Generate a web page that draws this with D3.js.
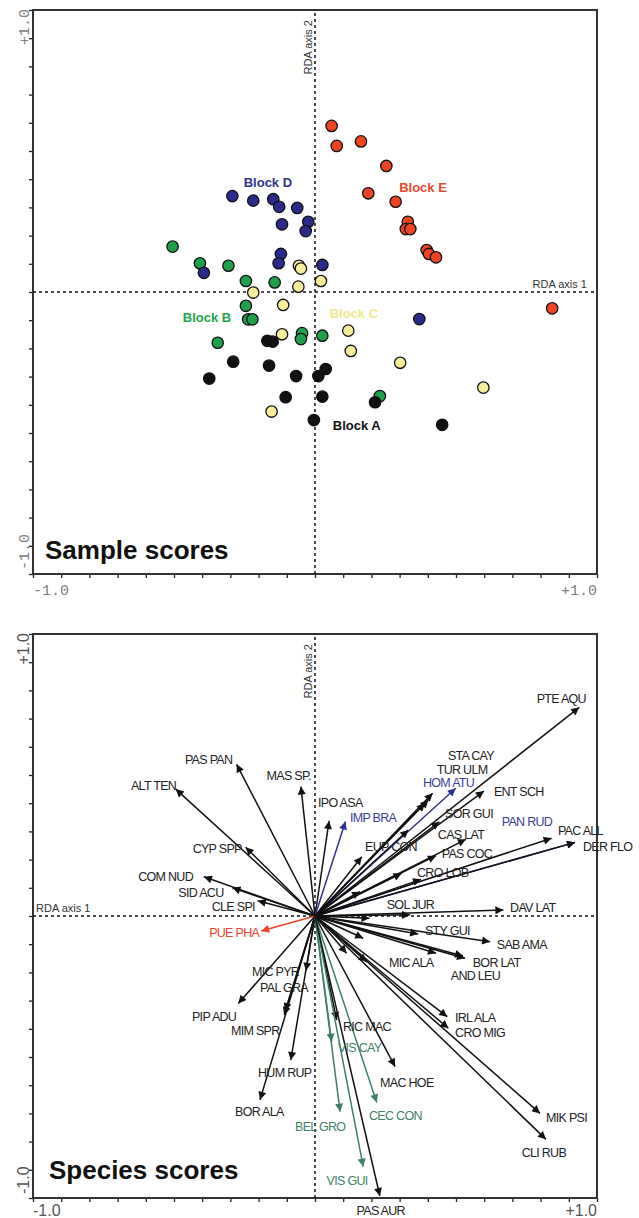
<!DOCTYPE html>
<html>
<head>
<meta charset="utf-8">
<script src="https://cdn.jsdelivr.net/npm/d3@7"></script>
<style>
  html, body { margin: 0; padding: 0; background: #fff; }
  svg { display: block; }
</style>
</head>
<body>
<svg id="chart" width="639" height="1218"></svg>
<script>
// ---------------- DATA: sample scores (RDA axis 1, RDA axis 2) ----------------
const blocks = ["Block A", "Block B", "Block C", "Block D", "Block E"];
const blockAx = [-0.169,-0.150,-0.290,-0.163,-0.375,-0.067,-0.104,-0.004,0.012,0.038,0.026,0.213,0.451];
const blockAy = [-0.173,-0.176,-0.247,-0.261,-0.307,-0.298,-0.373,-0.454,-0.298,-0.273,-0.371,-0.391,-0.471];
const blockBx = [-0.505,-0.408,-0.307,-0.245,-0.143,-0.245,-0.237,-0.222,-0.345,-0.046,-0.050,0.026,0.230];
const blockBy = [0.161,0.102,0.093,0.039,0.034,-0.049,-0.097,-0.097,-0.180,-0.146,-0.167,-0.155,-0.369];
const blockCx = [-0.219,-0.057,-0.050,-0.059,0.021,-0.113,-0.117,-0.154,0.118,0.127,0.302,0.597];
const blockCy = [-0.002,0.093,0.083,0.019,0.039,-0.046,-0.150,-0.424,-0.137,-0.209,-0.251,-0.339];
const blockDx = [-0.293,-0.219,-0.148,-0.127,-0.063,-0.117,-0.024,-0.033,-0.121,-0.129,-0.394,0.026,0.370];
const blockDy = [0.340,0.324,0.329,0.302,0.298,0.240,0.249,0.216,0.135,0.102,0.068,0.096,-0.096];
const blockEx = [0.059,0.077,0.163,0.253,0.189,0.286,0.329,0.322,0.338,0.396,0.404,0.429,0.841];
const blockEy = [0.589,0.518,0.534,0.447,0.350,0.320,0.249,0.223,0.223,0.149,0.135,0.123,-0.058];

// ---------------- DATA: species scores (arrow tips) ----------------
const species = ["PAN RUD","PAS PAN","ALT TEN","MAS SP.","CYP SPP","COM NUD","SID ACU","CLE SPI","PUE PHA",
  "MIC PYR","PAL GRA","PIP ADU","MIM SPR","HUM RUP","BOR ALA","PTE AQU","STA CAY","TUR ULM","HOM ATU",
  "ENT SCH","IPO ASA","IMP BRA","SOR GUI","PAC ALL","DER FLO","CAS LAT","EUP CON","PAS COC",
  "CRO LOB","SOL JUR","DAV LAT","STY GUI","SAB AMA","BOR LAT","MIC ALA","AND LEU","IRL ALA","CRO MIG",
  "RIC MAC","VIS CAY","MAC HOE","CEC CON","BEL GRO","VIS GUI","PAS AUR","MIK PSI","CLI RUB",
  "", "", "", "", "", "", "", ""];
const speciesX = [0.922,-0.278,-0.494,-0.050,-0.246,-0.394,-0.293,-0.203,-0.191,
  -0.032,-0.106,-0.272,-0.109,-0.086,-0.195,0.937,0.417,0.402,0.499,
  0.599,0.050,0.108,0.441,0.839,0.922,0.535,0.166,0.429,
  0.376,0.337,0.668,0.366,0.621,0.532,0.429,0.525,0.469,0.473,
  0.077,0.059,0.284,0.219,0.089,0.171,0.230,0.798,0.819,
  0.390,0.331,0.307,0.160,0.193,0.171,0.112,0.183];
const speciesY = [0.261,0.538,0.450,0.459,0.244,0.139,0.100,0.054,-0.053,
  -0.194,-0.337,-0.310,-0.351,-0.511,-0.652,0.740,0.435,0.411,0.453,
  0.443,0.337,0.335,0.334,0.276,0.261,0.272,0.210,0.214,
  0.130,0.004,0.021,-0.064,-0.091,-0.150,-0.132,-0.142,-0.357,-0.398,
  -0.369,-0.446,-0.534,-0.661,-0.694,-0.889,-0.993,-0.700,-0.792,
  0.400,0.305,0.151,0.086,-0.008,-0.079,-0.132,-0.162];
// species group: 0 = black, 1 = blue, 2 = green, 3 = red
const speciesGroup = [1,0,0,0,0,0,0,0,3,
  0,0,0,0,0,0,0,0,0,1,
  0,0,1,0,0,0,0,0,0,
  0,0,0,0,0,0,0,0,0,0,
  0,2,0,2,2,2,0,0,0,
  0,0,0,0,0,0,0,0];

// ---------------- LAYOUT (label offsets in px, relative to arrow tip) ----------------
const labelOffset = {
  "PAS PAN":[-51.7,-4.3],"ALT TEN":[-44.7,-3],"MAS SP.":[-34.3,-10.7],"CYP SPP":[-53,1.7],
  "COM NUD":[-65.7,0.6],"SID ACU":[-54,5],"CLE SPI":[-46,6],"PUE PHA":[-52,2.3],
  "MIC PYR":[-54,1],"PAL GRA":[-25,-22.7],"PIP ADU":[-46.3,13.7],"MIM SPR":[-53.3,15.7],
  "HUM RUP":[-32.7,13],"BOR ALA":[-25,12],"PTE AQU":[-42.6,-8.3],"STA CAY":[15.3,-37.6],
  "TUR ULM":[8.4,-30],"HOM ATU":[-32.7,-5],"ENT SCH":[10,1.3],"IPO ASA":[-11,-17.7],
  "IMP BRA":[4.5,-3.2],"SOR GUI":[5.7,-7.7],"PAN RUD":[-73.3,-20.6],"PAC ALL":[6.3,-7.6],
  "DER FLO":[8,4.4],"CAS LAT":[-28,-4.3],"EUP CON":[3.3,-9.4],"PAS COC":[5.7,-1.4],
  "CRO LOB":[-4,-6],"SOL JUR":[-23.3,-10],"DAV LAT":[6.7,-1.7],"STY GUI":[6.7,-3.3],
  "SAB AMA":[6.7,3.3],"BOR LAT":[7.7,4.4],"MIC ALA":[-47,10],"AND LEU":[-12.3,20],
  "IRL ALA":[7.7,1.6],"CRO MIG":[6.7,4.4],"RIC MAC":[6.3,6.7],"VIS CAY":[6.3,6.6],
  "MAC HOE":[-15,16],"CEC CON":[-7.7,13.7],"BEL GRO":[-45,15],"VIS GUI":[-36.6,14.3],
  "PAS AUR":[-23.3,14.7],"MIK PSI":[6,5],"CLI RUB":[-24.3,13.4]
};
const blockLabelPos = [[0.148,-0.472],[-0.383,-0.089],[0.138,-0.078],[-0.167,0.390],[0.383,0.372]];

// ---------------- STYLES ----------------
const blockColors = ["#111111","#1fa04a","#f7ee9c","#2b2a8c","#ee4423"];
const blockTextColors = ["#111111","#22a64c","#efe98e","#33348f","#e8482c"];
const groupColors = ["#111111","#2f3192","#3f7f68","#e8452c"];
const labelColors = ["#222222","#3a3d9a","#3f7f68","#e8452c"];

const svg = d3.select("#chart");
const L = 33, R = 597;

function panel(y0, y1, opts) {
  const x = d3.scaleLinear().domain([-1, 1]).range([L, R]);
  const y = d3.scaleLinear().domain([-1, 1]).range([y1, y0]);
  const g = svg.append("g");
  const ticks = d3.range(-10, 11).map(d => d / 10);

  g.append("g").attr("transform", `translate(${L},0)`)
    .call(d3.axisLeft(y).tickValues(ticks).tickFormat("").tickSizeInner(4).tickSizeOuter(0))
    .call(a => a.select(".domain").remove())
    .selectAll("line").attr("stroke", "#222").attr("stroke-width", 1.3);
  g.append("g").attr("transform", `translate(0,${y1})`)
    .call(d3.axisBottom(x).tickValues(ticks).tickFormat("").tickSizeInner(4).tickSizeOuter(0))
    .call(a => a.select(".domain").remove())
    .selectAll("line").attr("stroke", "#222").attr("stroke-width", 1.3);

  g.append("rect").attr("x", L).attr("y", y0).attr("width", R - L).attr("height", y1 - y0)
    .attr("fill", "none").attr("stroke", "#333").attr("stroke-width", 2);

  g.append("line").attr("x1", x(-1)).attr("x2", x(1)).attr("y1", y(0)).attr("y2", y(0))
    .attr("stroke", "#111").attr("stroke-width", 1.5).attr("stroke-dasharray", "3,3");
  g.append("line").attr("x1", x(0)).attr("x2", x(0)).attr("y1", y(-1)).attr("y2", y(1))
    .attr("stroke", "#111").attr("stroke-width", 1.5).attr("stroke-dasharray", "3,3");

  g.append("text").attr("transform", `translate(${x(0) - 3},${y0 + 10}) rotate(-90)`)
    .attr("text-anchor", "end").attr("font-family", "Liberation Sans, Arial, sans-serif")
    .attr("font-size", 11).attr("fill", "#333").text("RDA axis 2");
  if (opts.axis1Right) {
    g.append("text").attr("x", R - 10).attr("y", y(0) - 4).attr("text-anchor", "end")
      .attr("font-family", "Liberation Sans, Arial, sans-serif").attr("font-size", 11)
      .attr("fill", "#333").text("RDA axis 1");
  } else {
    g.append("text").attr("x", L + 3).attr("y", y(0) - 4).attr("text-anchor", "start")
      .attr("font-family", "Liberation Sans, Arial, sans-serif").attr("font-size", 11)
      .attr("fill", "#333").text("RDA axis 1");
  }

  const tf = opts.mono ? "Liberation Mono, Courier New, monospace" : "Liberation Sans, Arial, sans-serif";
  const ts = opts.mono ? 15 : 16;
  const tc = opts.mono ? "#808080" : "#555";
  g.append("text").attr("transform", `translate(${L - 4},${y0 - 1}) rotate(-90)`)
    .attr("text-anchor", "end").attr("font-family", tf).attr("font-size", ts).attr("fill", tc).text("+1.0");
  g.append("text").attr("transform", `translate(${L - 4},${y1 - 4}) rotate(-90)`)
    .attr("text-anchor", "start").attr("font-family", tf).attr("font-size", ts).attr("fill", tc).text("-1.0");
  g.append("text").attr("x", L).attr("y", y1 + opts.xLabelOffset)
    .attr("text-anchor", "start").attr("font-family", tf).attr("font-size", ts).attr("fill", tc).text("-1.0");
  g.append("text").attr("x", R).attr("y", y1 + opts.xLabelOffset)
    .attr("text-anchor", "end").attr("font-family", tf).attr("font-size", ts).attr("fill", tc).text("+1.0");

  g.append("text").attr("x", L + opts.titleDx).attr("y", y1 - opts.titleDy)
    .attr("font-family", "Liberation Sans, Arial, sans-serif").attr("font-weight", "bold")
    .attr("font-size", 26).attr("fill", "#111").text(opts.title);

  return { g, x, y };
}

// ---------------- TOP PANEL: Sample scores ----------------
const topP = panel(10, 574, { axis1Right: true, mono: true, xLabelOffset: 21, title: "Sample scores", titleDx: 12, titleDy: 15 });
const blockXs = [blockAx, blockBx, blockCx, blockDx, blockEx];
const blockYs = [blockAy, blockBy, blockCy, blockDy, blockEy];
const drawOrder = [1, 2, 3, 4, 0];
drawOrder.forEach(b => {
  const pts = blockXs[b].map((v, i) => ({ x: v, y: blockYs[b][i] }));
  topP.g.append("g").selectAll("circle").data(pts).join("circle")
    .attr("cx", d => topP.x(d.x)).attr("cy", d => topP.y(d.y)).attr("r", 5.7)
    .attr("fill", blockColors[b]).attr("stroke", "#111").attr("stroke-width", 1.3);
});
topP.g.append("g").selectAll("text").data(blocks).join("text")
  .attr("x", (d, i) => topP.x(blockLabelPos[i][0])).attr("y", (d, i) => topP.y(blockLabelPos[i][1]))
  .attr("text-anchor", "middle").attr("dominant-baseline", "central")
  .attr("font-family", "Liberation Sans, Arial, sans-serif").attr("font-weight", "bold")
  .attr("font-size", 13).attr("fill", (d, i) => blockTextColors[i]).text(d => d);

// ---------------- BOTTOM PANEL: Species scores ----------------
const botP = panel(634, 1198, { axis1Right: false, mono: false, xLabelOffset: 18, title: "Species scores", titleDx: 16, titleDy: 19 });
const defs = svg.append("defs");
groupColors.forEach((c, i) => {
  defs.append("marker").attr("id", "ah" + i).attr("viewBox", "0 0 10 10")
    .attr("refX", 10).attr("refY", 5).attr("markerWidth", 10).attr("markerHeight", 8)
    .attr("markerUnits", "userSpaceOnUse").attr("orient", "auto")
    .append("path").attr("d", "M0,0 L10,5 L0,10 Z").attr("fill", c);
});
const sp = species.map((n, i) => ({ name: n, x: speciesX[i], y: speciesY[i], g: speciesGroup[i] }));
botP.g.append("g").selectAll("line").data(sp).join("line")
  .attr("x1", botP.x(0)).attr("y1", botP.y(0))
  .attr("x2", d => botP.x(d.x)).attr("y2", d => botP.y(d.y))
  .attr("stroke", d => groupColors[d.g]).attr("stroke-width", 1.5)
  .attr("marker-end", d => `url(#ah${d.g})`);
botP.g.append("g").selectAll("text").data(sp.filter(d => d.name !== "")).join("text")
  .attr("x", d => botP.x(d.x) + labelOffset[d.name][0])
  .attr("y", d => botP.y(d.y) + labelOffset[d.name][1])
  .attr("dominant-baseline", "central")
  .attr("font-family", "Liberation Sans, Arial, sans-serif").attr("font-size", 12.5)
  .attr("letter-spacing", -0.7)
  .attr("fill", d => labelColors[d.g]).text(d => d.name);
</script>
</body>
</html>
